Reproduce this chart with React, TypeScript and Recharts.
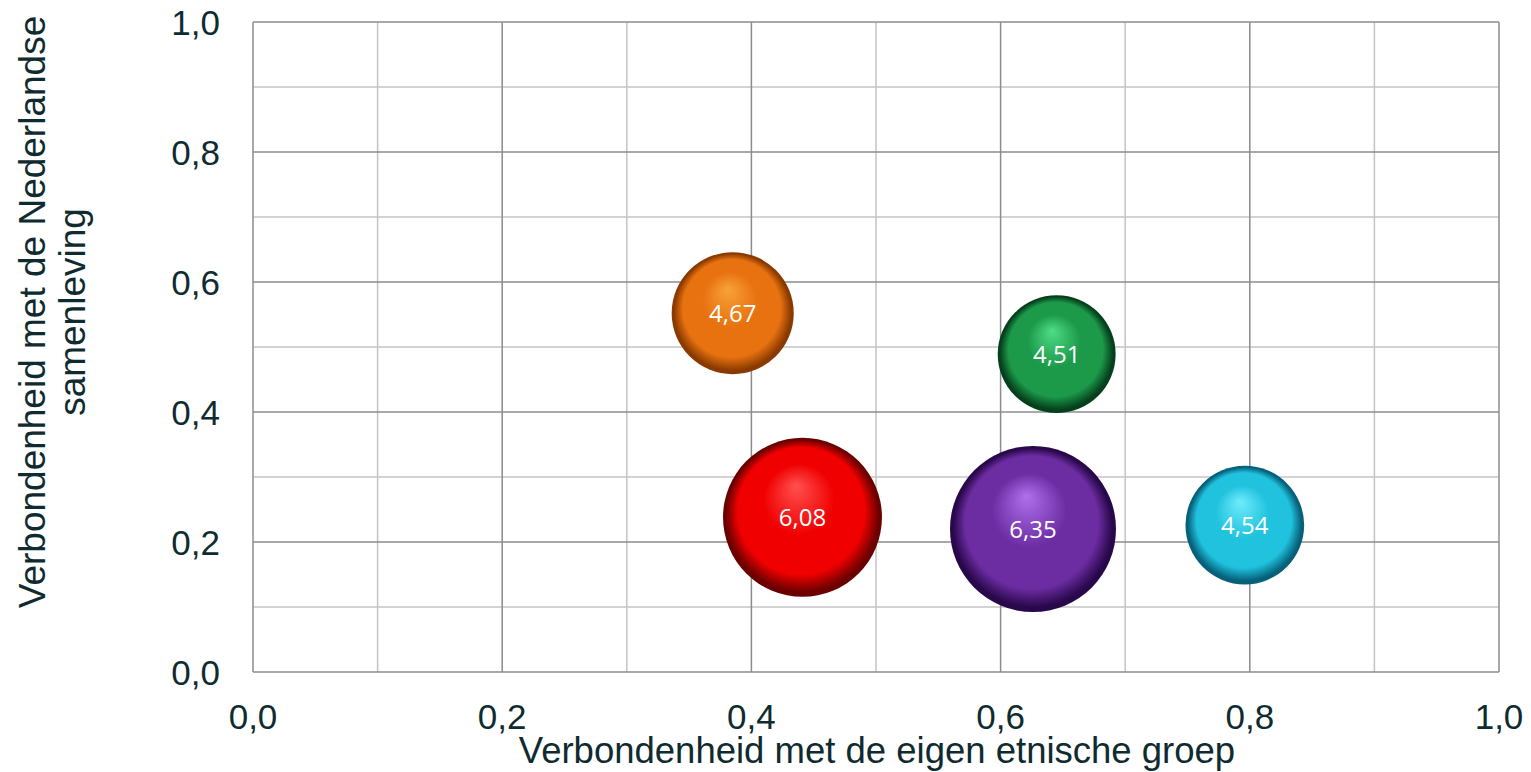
import {
  ScatterChart,
  Scatter,
  XAxis,
  YAxis,
  ZAxis,
  ReferenceLine,
} from "recharts";

// bubbles
const groups = ["oranje", "groen", "rood", "paars", "cyaan"];
const etnischeGroep = [0.385, 0.645, 0.441, 0.626, 0.796];
const nederlandseSamenleving = [0.552, 0.489, 0.238, 0.22, 0.226];
const bubbleValues = [4.67, 4.51, 6.08, 6.35, 4.54];

const axisTicks = [0, 0.2, 0.4, 0.6, 0.8, 1.0];
const minorGrid = [0.1, 0.3, 0.5, 0.7, 0.9];
const majorGrid = [0.2, 0.4, 0.6, 0.8, 1.0];

// light / base / dark per bubble
const sphereColors: Record<string, [string, string, string]> = {
  oranje: ["#f8a238", "#e87210", "#8a3a00"],
  groen: ["#50dc86", "#1c9a4a", "#05401c"],
  rood: ["#ff5050", "#f00000", "#6c0000"],
  paars: ["#b070ee", "#6c2ca2", "#28084a"],
  cyaan: ["#70ecfc", "#20c2de", "#06607a"],
};

const data = groups.map((g, i) => ({
  name: g,
  x: etnischeGroep[i],
  y: nederlandseSamenleving[i],
  value: bubbleValues[i],
  // bubble width grows with the value, so the area scale takes the square
  area: bubbleValues[i] * bubbleValues[i],
}));

const TEXT = "#0f2b30";
const FONT = "Arial, 'Liberation Sans', sans-serif";
const fmt = (v: number) => v.toFixed(1).replace(".", ",");

const XTick = (props: any) => {
  const { x, y, payload } = props;
  return (
    <text x={x} y={y} dy={55} textAnchor="middle" fill={TEXT} fontSize={35} fontFamily={FONT}>
      {fmt(payload.value)}
    </text>
  );
};

const YTick = (props: any) => {
  const { x, y, payload } = props;
  return (
    <text x={x} y={y} dx={-31} dy={13} textAnchor="end" fill={TEXT} fontSize={35} fontFamily={FONT}>
      {fmt(payload.value)}
    </text>
  );
};

const Sphere = (props: any) => {
  const { cx, cy, payload } = props;
  const r = props.size ? Math.sqrt(props.size / Math.PI) : props.width / 2;
  return (
    <g>
      <circle cx={cx} cy={cy} r={r} fill={`url(#sphere-${payload.name})`} />
      <text
        x={cx}
        y={cy}
        dy={9}
        textAnchor="middle"
        fill="#ffffff"
        fontSize={24}
        fontFamily="'Open Sans', sans-serif"
      >
        {payload.value.toFixed(2).replace(".", ",")}
      </text>
    </g>
  );
};

export default function App() {
  return (
    <div style={{ position: "absolute", left: 0, top: 0 }}>
      <ScatterChart
        width={1531}
        height={772}
        margin={{ top: 22, right: 32, bottom: 0, left: 0 }}
      >
        <defs>
          {groups.map((g) => {
            const [light, base, dark] = sphereColors[g];
            return (
              <radialGradient key={g} id={`sphere-${g}`} cx="50%" cy="50%" r="50%" fx="46%" fy="30%">
                <stop offset="0%" stopColor={light} />
                <stop offset="45%" stopColor={base} />
                <stop offset="80%" stopColor={base} />
                <stop offset="96%" stopColor={dark} />
                <stop offset="100%" stopColor={dark} />
              </radialGradient>
            );
          })}
        </defs>
        <XAxis
          type="number"
          dataKey="x"
          domain={[0, 1]}
          ticks={axisTicks}
          interval={0}
          tickLine={false}
          tickSize={0}
          axisLine={{ stroke: "#8c8c8c", strokeWidth: 1.5 }}
          tick={<XTick />}
          height={100}
          label={{
            content: () => (
              <text x={877} y={763} textAnchor="middle" fill={TEXT} fontSize={36.5} fontFamily={FONT}>
                Verbondenheid met de eigen etnische groep
              </text>
            ),
          }}
        />
        <YAxis
          type="number"
          dataKey="y"
          domain={[0, 1]}
          ticks={axisTicks}
          interval={0}
          tickLine={false}
          tickSize={0}
          axisLine={{ stroke: "#8c8c8c", strokeWidth: 1.5 }}
          tick={<YTick />}
          width={253}
          label={{
            content: () => (
              <g fill={TEXT} fontSize={37} fontFamily={FONT}>
                <text x={45} y={312} textAnchor="middle" transform="rotate(-90, 45, 312)">
                  Verbondenheid met de Nederlandse
                </text>
                <text x={85} y={312} textAnchor="middle" transform="rotate(-90, 85, 312)">
                  samenleving
                </text>
              </g>
            ),
          }}
        />
        <ZAxis type="number" dataKey="area" domain={[0, "dataMax"]} range={[0, Math.PI * 83 * 83]} />
        {minorGrid.map((v) => (
          <ReferenceLine key={`mx${v}`} x={v} stroke="#c4c4c4" strokeWidth={1.5} />
        ))}
        {minorGrid.map((v) => (
          <ReferenceLine key={`my${v}`} y={v} stroke="#c4c4c4" strokeWidth={1.5} />
        ))}
        {majorGrid.map((v) => (
          <ReferenceLine key={`Mx${v}`} x={v} stroke="#8c8c8c" strokeWidth={1.5} />
        ))}
        {majorGrid.map((v) => (
          <ReferenceLine key={`My${v}`} y={v} stroke="#8c8c8c" strokeWidth={1.5} />
        ))}
        <Scatter data={data} shape={<Sphere />} isAnimationActive={false} />
      </ScatterChart>
    </div>
  );
}
